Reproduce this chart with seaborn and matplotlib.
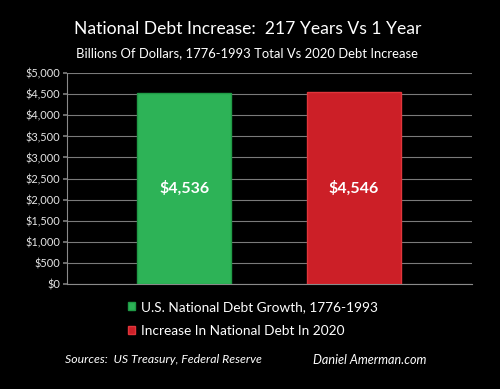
import matplotlib
matplotlib.use("Agg")
import matplotlib.pyplot as plt
import seaborn as sns
import pandas as pd

# data
series = ["U.S. National Debt Growth, 1776-1993", "Increase In National Debt In 2020"]
values = [4536, 4546]
bar_colors = ["#2DB357", "#CC1F27"]
edge_colors = ["#1F9A46", "#E0353B"]
yticks = list(range(0, 5001, 500))

df = pd.DataFrame({"series": series, "value": values})

sns.set_theme(style="dark")
plt.rcParams["font.family"] = ["Lato", "DejaVu Sans"]

fig = plt.figure(figsize=(5, 3.89), dpi=100, facecolor="black")
ax = fig.add_axes([0.134, 0.270, 0.810, 0.542])
ax.set_facecolor("black")

sns.barplot(data=df, x="series", y="value", hue="series", palette=bar_colors,
            width=0.553, ax=ax, legend=False, saturation=1)
for patch, ec in zip(ax.patches, edge_colors):
    patch.set_edgecolor(ec)
    patch.set_linewidth(1.0)
    patch.set_zorder(3)

ax.set_xlim(-0.69, 1.695)
ax.set_ylim(0, 5000)
ax.set_yticks(yticks)
ax.set_yticklabels([f"${v:,}" for v in yticks], color="#E6E6E6", fontsize=7.9)
ax.set_xticks([])
ax.set_xlabel("")
ax.set_ylabel("")
ax.grid(axis="y", color="#7A7A7A", linewidth=0.8, zorder=0)
ax.grid(axis="x", visible=False)
ax.tick_params(axis="y", length=3, color="#7A7A7A", pad=2, left=True)
for side in ["top", "right"]:
    ax.spines[side].set_visible(False)
for side in ["left", "bottom"]:
    ax.spines[side].set_visible(True)
    ax.spines[side].set_color("#8A8A8A")
    ax.spines[side].set_linewidth(0.8)

# value labels in the middle of bars
for i, v in enumerate(values):
    ax.text(i, v / 2, f"${v:,}", ha="center", va="center", color="white",
            fontsize=11.5, fontweight="bold", zorder=4)

# titles
fig.text(0.495, 0.925, "National Debt Increase:  217 Years Vs 1 Year",
         ha="center", va="center", color="white", fontsize=12.6)
fig.text(0.494, 0.863, "Billions Of Dollars, 1776-1993 Total Vs 2020 Debt Increase",
         ha="center", va="center", color="white", fontsize=9.35)

# legend
handles = ax.patches[:2]
leg = fig.legend(handles, series, loc="upper left", bbox_to_anchor=(0.245, 0.24),
                 frameon=False, fontsize=9.8, labelcolor="white",
                 handlelength=0.55, handleheight=0.5, handletextpad=0.4,
                 labelspacing=0.85, borderaxespad=0)

# sources
fig.text(0.13, 0.075, "Sources:  US Treasury, Federal Reserve", ha="left", va="center",
         color="white", fontsize=8.8, style="italic")
fig.text(0.626, 0.075, "Daniel Amerman.com", ha="left", va="center",
         color="white", fontsize=9.1, style="italic")

fig.savefig("out.png", dpi=100, facecolor="black")
